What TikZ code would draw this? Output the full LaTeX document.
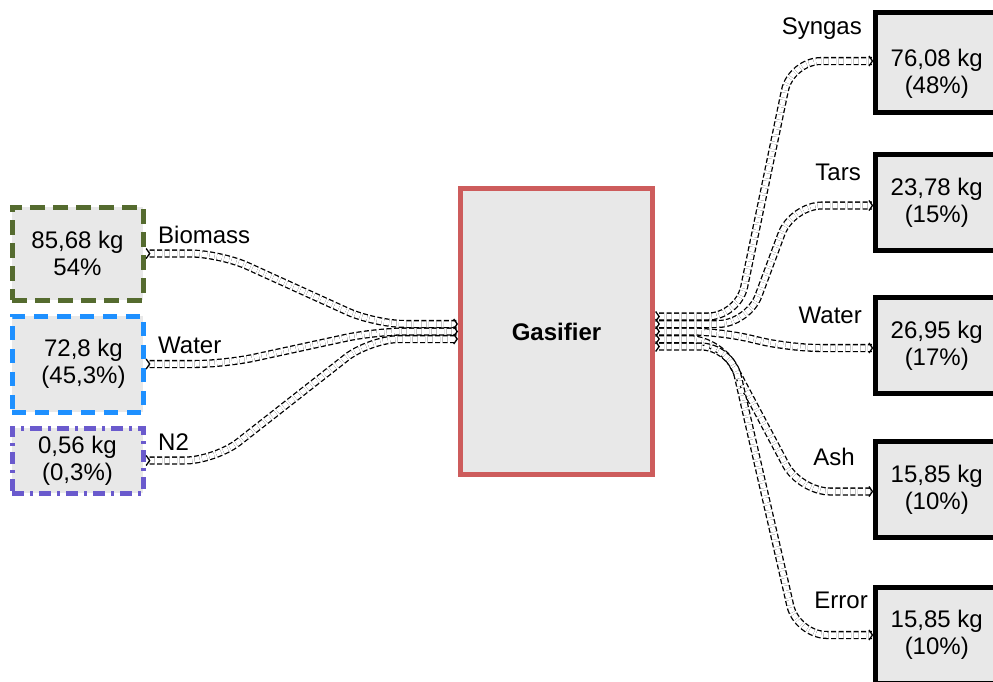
\documentclass[tikz,border=0pt]{standalone}
\usepackage{fontspec}
\setmainfont{Liberation Sans}
\usetikzlibrary{arrows.meta}

\definecolor{biogreen}{RGB}{85,107,47}
\definecolor{watblue}{RGB}{30,144,255}
\definecolor{ntwopurple}{RGB}{106,90,205}
\definecolor{gasred}{RGB}{205,92,92}
\definecolor{boxgray}{RGB}{232,232,232}

\begin{document}
\begin{tikzpicture}
	[x=1pt, y=-1pt,
	txt/.style={font=\fontsize{24}{27}\selectfont, inner sep=0pt},
	inbox/.style={rectangle, fill=boxgray, line width=5pt, minimum width=131pt, minimum height=93pt, align=center, txt},
	outbox/.style={rectangle, fill=boxgray, draw=black, line width=5pt, minimum width=122pt, minimum height=96pt, align=center, txt},
	flow/.style={draw, line width=1.3pt, double=white, double distance=5.5pt, dash pattern=on 5pt off 2.5pt, rounded corners=30pt,
		arrows={Straight Barb[reversed,length=3.5pt,width=10pt]-Straight Barb[length=3.5pt,width=10pt]}},
	flowlabel/.style={txt, anchor=base east}]
	
	\useasboundingbox (0,0) rectangle (993,681);
	
	% inputs
	\node (bio) at (77.5,253.5) [inbox, draw=biogreen, dash pattern=on 15pt off 8pt] {85,68 kg\\54\%};
	\node (wat) at (77.5,364) [inbox, draw=watblue, dash pattern=on 14pt off 9pt, minimum height=96pt] {\hspace{12pt}72,8 kg\\\hspace{12pt}(45,3\%)};
	\node (ntwo) at (77.5,460.5) [inbox, draw=ntwopurple, dash pattern=on 12pt off 6pt on 3pt off 6pt, minimum height=65pt] {0,56 kg\\(0,3\%)};
	\node (biol) at (158,243) [txt, anchor=base west] {Biomass};
	\node (watl) at (158,353) [txt, anchor=base west] {Water};
	\node (ntwol) at (158,450) [txt, anchor=base west] {N2};
	
	% reactor
	\node (gas) at (556.5,331.5) [rectangle, fill=boxgray, draw=gasred, line width=5pt, minimum width=192pt, minimum height=286pt,
		font=\fontsize{24}{27}\selectfont\bfseries] {Gasifier};
	
	% outputs
	\node (syn) at (936.75,62) [outbox, minimum height=100pt] {\rule{0pt}{40pt}76,08 kg\\(48\%)};
	\node (tar) at (936.75,202.5) [outbox] {23,78 kg\\(15\%)};
	\node (wout) at (936.75,345.5) [outbox] {26,95 kg\\(17\%)};
	\node (ash) at (936.75,489.5) [outbox] {15,85 kg\\(10\%)};
	\node (err) at (936.75,635) [outbox] {15,85 kg\\(10\%)};
	\node (synl) at (862,34) [flowlabel] {Syngas};
	\node (tarl) at (861,180) [flowlabel] {Tars};
	\node (woutl) at (862,323) [flowlabel] {Water};
	\node (ashl) at (855,465) [flowlabel] {Ash};
	\node (errl) at (868,608) [flowlabel] {Error};
	
	% flows in
	\draw [flow] (bio.east) -- (220,0 |- bio.east) -- (375,324) -- ([yshift=7.5pt]gas.west);
	\draw [flow] (wat.east) -- (225,0 |- wat.east) -- (375,331.5) -- (gas.west);
	\draw [flow] (ntwo.east) -- (215,0 |- ntwo.east) -- (370,339) -- ([yshift=-7.5pt]gas.west);
	
	% flows out
	\draw [flow] ([yshift=15pt]gas.east) -- (738,316.5) -- (791,61) -- ([yshift=1pt]syn.west);
	\draw [flow] ([yshift=7.5pt]gas.east) -- (748,324) -- (792,205.5) -- ([yshift=-3pt]tar.west);
	\draw [flow] (gas.east) -- (720,331.5) -- (790,348) -- ([yshift=-2.5pt]wout.west);
	\draw [flow] ([yshift=-7.5pt]gas.east) -- (719,339) -- (800,491.5) -- ([yshift=-2pt]ash.west);
	\draw [flow] ([yshift=-15pt]gas.east) -- (731,346.5) -- (797,635) -- (err.west);

\end{tikzpicture}
\end{document}
